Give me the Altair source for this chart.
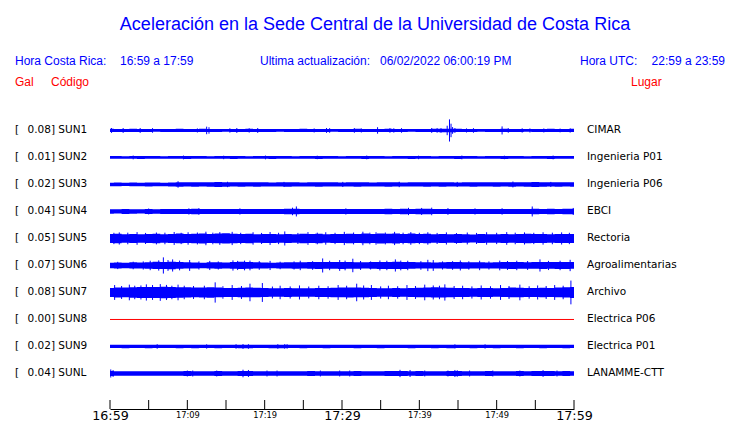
import altair as alt
import pandas as pd

# ---------------- data ----------------
stations = ["SUN1", "SUN2", "SUN3", "SUN4", "SUN5", "SUN6", "SUN7", "SUN8", "SUN9", "SUNL"]
peak_gal = ["0.08", "0.01", "0.02", "0.04", "0.05", "0.07", "0.08", "0.00", "0.02", "0.04"]
places = ["CIMAR", "Ingenieria P01", "Ingenieria P06", "EBCI", "Rectoria",
          "Agroalimentarias", "Archivo", "Electrica P06", "Electrica P01", "LANAMME-CTT"]
trace_colors = ["#0000ff", "#0000ff", "#0000ff", "#0000ff", "#0000ff",
                "#0000ff", "#0000ff", "#ff0000", "#0000ff", "#0000ff"]

minutes = list(range(61))                 # minutes after 16:59
tick_minutes = list(range(0, 61, 5))
label_minutes = [0, 10, 20, 30, 40, 50, 60]
tick_labels = ["16:59", "17:09", "17:19", "17:29", "17:39", "17:49", "17:59"]
TRACE_GAP = 0.2                           # Gal between trace baselines

# half-amplitude envelope per minute (Gal)
env_sun1 = [0.012, 0.011, 0.011, 0.012, 0.011, 0.011, 0.010, 0.011, 0.011, 0.012,
            0.011, 0.011, 0.012, 0.011, 0.011, 0.010, 0.011, 0.011, 0.012, 0.011,
            0.011, 0.011, 0.010, 0.011, 0.011, 0.012, 0.011, 0.011, 0.011, 0.010,
            0.011, 0.011, 0.012, 0.011, 0.011, 0.011, 0.012, 0.011, 0.011, 0.010,
            0.011, 0.011, 0.012, 0.013, 0.013, 0.012, 0.011, 0.011, 0.010, 0.011,
            0.011, 0.012, 0.011, 0.011, 0.010, 0.011, 0.011, 0.012, 0.011, 0.011,
            0.012]
env_sun2 = [0.010, 0.010, 0.009, 0.010, 0.011, 0.010, 0.010, 0.009, 0.010, 0.010,
            0.011, 0.010, 0.010, 0.009, 0.010, 0.010, 0.011, 0.010, 0.009, 0.010,
            0.010, 0.011, 0.010, 0.010, 0.009, 0.010, 0.010, 0.011, 0.010, 0.010,
            0.009, 0.010, 0.010, 0.011, 0.010, 0.010, 0.009, 0.010, 0.010, 0.011,
            0.010, 0.010, 0.009, 0.010, 0.010, 0.011, 0.010, 0.010, 0.009, 0.010,
            0.010, 0.011, 0.010, 0.010, 0.009, 0.010, 0.010, 0.011, 0.010, 0.010,
            0.010]
env_sun3 = [0.013, 0.014, 0.012, 0.014, 0.013, 0.015, 0.014, 0.013, 0.015, 0.017,
            0.016, 0.017, 0.016, 0.017, 0.018, 0.017, 0.016, 0.017, 0.016, 0.017,
            0.016, 0.015, 0.016, 0.017, 0.016, 0.015, 0.016, 0.017, 0.016, 0.016,
            0.015, 0.016, 0.017, 0.016, 0.015, 0.016, 0.017, 0.016, 0.015, 0.016,
            0.016, 0.017, 0.016, 0.017, 0.016, 0.015, 0.016, 0.017, 0.016, 0.016,
            0.017, 0.016, 0.017, 0.016, 0.017, 0.018, 0.017, 0.016, 0.017, 0.016,
            0.017]
env_sun4 = [0.017, 0.016, 0.018, 0.017, 0.016, 0.018, 0.017, 0.018, 0.019, 0.018,
            0.019, 0.020, 0.019, 0.018, 0.019, 0.018, 0.019, 0.018, 0.019, 0.018,
            0.019, 0.018, 0.019, 0.020, 0.021, 0.019, 0.018, 0.019, 0.018, 0.019,
            0.018, 0.019, 0.018, 0.019, 0.018, 0.019, 0.020, 0.019, 0.020, 0.019,
            0.020, 0.021, 0.019, 0.018, 0.019, 0.018, 0.019, 0.018, 0.019, 0.018,
            0.019, 0.018, 0.019, 0.018, 0.019, 0.020, 0.019, 0.020, 0.019, 0.020,
            0.020]
env_sun5 = [0.033, 0.035, 0.032, 0.034, 0.031, 0.033, 0.035, 0.032, 0.034, 0.036,
            0.033, 0.035, 0.037, 0.034, 0.036, 0.038, 0.035, 0.033, 0.035, 0.032,
            0.034, 0.033, 0.031, 0.034, 0.032, 0.035, 0.033, 0.035, 0.032, 0.034,
            0.033, 0.035, 0.033, 0.036, 0.034, 0.037, 0.035, 0.037, 0.034, 0.036,
            0.033, 0.035, 0.032, 0.034, 0.031, 0.033, 0.032, 0.030, 0.033, 0.031,
            0.032, 0.034, 0.032, 0.033, 0.035, 0.033, 0.034, 0.032, 0.033, 0.034,
            0.033]
env_sun6 = [0.020, 0.022, 0.021, 0.023, 0.022, 0.024, 0.027, 0.026, 0.028, 0.025,
            0.023, 0.022, 0.021, 0.023, 0.024, 0.022, 0.025, 0.027, 0.025, 0.023,
            0.022, 0.021, 0.022, 0.023, 0.024, 0.023, 0.025, 0.026, 0.025, 0.025,
            0.026, 0.025, 0.024, 0.023, 0.025, 0.026, 0.026, 0.027, 0.026, 0.025,
            0.023, 0.023, 0.022, 0.023, 0.025, 0.025, 0.024, 0.023, 0.023, 0.022,
            0.023, 0.025, 0.026, 0.025, 0.024, 0.025, 0.026, 0.025, 0.026, 0.026,
            0.025]
env_sun7 = [0.034, 0.037, 0.036, 0.039, 0.040, 0.041, 0.041, 0.042, 0.041, 0.039,
            0.038, 0.036, 0.037, 0.039, 0.036, 0.034, 0.033, 0.035, 0.036, 0.035,
            0.034, 0.032, 0.031, 0.033, 0.032, 0.031, 0.032, 0.034, 0.033, 0.035,
            0.036, 0.037, 0.036, 0.035, 0.033, 0.032, 0.031, 0.033, 0.032, 0.034,
            0.035, 0.036, 0.038, 0.037, 0.035, 0.034, 0.033, 0.032, 0.034, 0.033,
            0.032, 0.034, 0.036, 0.035, 0.033, 0.034, 0.035, 0.034, 0.036, 0.038,
            0.041]
env_sun9 = [0.012, 0.012, 0.013, 0.012, 0.012, 0.013, 0.012, 0.012, 0.012, 0.013,
            0.012, 0.013, 0.012, 0.012, 0.013, 0.012, 0.012, 0.013, 0.013, 0.012,
            0.012, 0.013, 0.013, 0.012, 0.012, 0.013, 0.012, 0.012, 0.013, 0.012,
            0.012, 0.012, 0.013, 0.012, 0.012, 0.013, 0.012, 0.012, 0.012, 0.013,
            0.012, 0.012, 0.013, 0.012, 0.013, 0.012, 0.012, 0.013, 0.012, 0.012,
            0.013, 0.012, 0.012, 0.013, 0.012, 0.012, 0.013, 0.012, 0.012, 0.013,
            0.012]
env_sunl = [0.018, 0.017, 0.016, 0.017, 0.016, 0.017, 0.016, 0.017, 0.016, 0.017,
            0.018, 0.017, 0.016, 0.017, 0.018, 0.017, 0.016, 0.018, 0.019, 0.017,
            0.016, 0.017, 0.016, 0.017, 0.016, 0.017, 0.018, 0.017, 0.016, 0.017,
            0.016, 0.017, 0.018, 0.017, 0.016, 0.017, 0.018, 0.019, 0.018, 0.017,
            0.018, 0.017, 0.016, 0.017, 0.018, 0.019, 0.017, 0.016, 0.017, 0.018,
            0.017, 0.016, 0.017, 0.018, 0.017, 0.018, 0.019, 0.018, 0.017, 0.018,
            0.017]

# isolated peaks: (minute, half-amplitude Gal)
spk_sun1 = [(0.2, 0.018), (1.7, 0.018), (3.9, 0.018), (5.5, 0.017), (11.3, 0.015),
            (12.5, 0.028), (12.8, 0.024), (15.5, 0.016), (16.4, 0.018), (18.0, 0.016),
            (19.1, 0.018), (26.4, 0.015), (28.0, 0.018), (28.4, 0.017), (31.6, 0.017),
            (32.5, 0.015), (34.6, 0.024), (36.2, 0.017), (36.7, 0.016), (37.7, 0.017),
            (41.6, 0.018), (42.3, 0.017), (42.8, 0.017), (43.6, 0.035), (43.9, 0.082),
            (44.1, 0.05), (44.3, 0.025), (44.6, 0.018), (46.1, 0.015), (47.0, 0.017),
            (50.7, 0.03), (51.5, 0.017), (53.3, 0.016), (54.3, 0.015), (56.1, 0.015),
            (58.2, 0.014), (59.5, 0.016)]
spk_sun2 = [(3.0, 0.014), (9.5, 0.014), (14.7, 0.013), (20.1, 0.014), (26.8, 0.013),
            (33.2, 0.014), (39.9, 0.013), (45.5, 0.014), (51.0, 0.013), (57.3, 0.014)]
spk_sun3 = [(8.8, 0.024), (15.2, 0.020), (22.5, 0.019), (30.1, 0.019), (37.4, 0.020),
            (44.9, 0.019), (52.1, 0.022), (57.0, 0.019)]
spk_sun4 = [(5.0, 0.022), (10.2, 0.023), (11.5, 0.025), (16.8, 0.023), (23.6, 0.028),
            (24.1, 0.037), (30.5, 0.023), (38.6, 0.027), (40.3, 0.026), (41.6, 0.028),
            (43.7, 0.025), (47.2, 0.023), (50.7, 0.024), (54.6, 0.037), (59.9, 0.026)]
spk_sun5 = [(1.2, 0.045), (3.5, 0.047), (6.0, 0.044), (8.3, 0.048), (10.1, 0.046),
            (12.4, 0.050), (14.2, 0.047), (15.8, 0.049), (18.5, 0.046), (20.7, 0.048),
            (22.6, 0.052), (25.6, 0.047), (27.9, 0.046), (30.3, 0.049), (32.7, 0.050),
            (34.4, 0.046), (36.8, 0.049), (38.9, 0.047), (41.1, 0.046), (43.5, 0.045),
            (46.2, 0.044), (48.7, 0.046), (51.3, 0.047), (53.6, 0.045), (56.0, 0.046),
            (58.4, 0.045),
            (0.5, 0.042), (2.3, 0.043), (4.6, 0.041), (7.1, 0.043), (9.2, 0.042),
            (11.3, 0.044), (13.3, 0.043), (16.9, 0.042), (19.6, 0.041), (21.8, 0.042),
            (24.3, 0.041), (26.8, 0.043), (29.1, 0.042), (31.5, 0.044), (33.6, 0.043),
            (35.6, 0.044), (37.9, 0.043), (40.0, 0.042), (42.3, 0.041), (44.8, 0.040),
            (47.4, 0.041), (50.0, 0.042), (52.4, 0.043), (54.8, 0.042), (57.2, 0.043),
            (59.4, 0.042)]
spk_sun6 = [(5.2, 0.035), (6.9, 0.060), (8.1, 0.045), (10.3, 0.040), (12.9, 0.034),
            (15.9, 0.038), (18.1, 0.036), (20.7, 0.034), (24.6, 0.035), (27.5, 0.052),
            (29.7, 0.040), (31.4, 0.050), (34.9, 0.037), (36.9, 0.045), (41.1, 0.042),
            (41.8, 0.040), (45.3, 0.037), (47.8, 0.035), (50.4, 0.036), (55.6, 0.045),
            (59.5, 0.042),
            (1.0, 0.027), (3.0, 0.028), (4.3, 0.030), (6.3, 0.038), (7.5, 0.040),
            (9.0, 0.036), (11.5, 0.030), (14.0, 0.030), (16.5, 0.034), (17.4, 0.036),
            (19.3, 0.032), (22.0, 0.028), (23.8, 0.030), (26.2, 0.032), (28.4, 0.035),
            (30.4, 0.036), (32.4, 0.033), (33.7, 0.030), (35.8, 0.035), (37.6, 0.036),
            (38.5, 0.035), (40.2, 0.032), (43.0, 0.030), (44.3, 0.032), (46.4, 0.031),
            (49.0, 0.030), (51.4, 0.033), (52.6, 0.035), (54.0, 0.033), (56.7, 0.034),
            (58.2, 0.035)]
spk_sun7 = [(0.6, 0.055), (2.5, 0.058), (4.7, 0.060), (6.5, 0.062), (8.8, 0.058),
            (13.6, 0.075), (15.8, 0.055), (18.1, 0.065), (19.7, 0.070), (22.0, 0.050),
            (24.5, 0.052), (27.0, 0.050), (29.5, 0.055), (31.9, 0.065), (33.8, 0.055),
            (36.0, 0.050), (38.4, 0.055), (40.7, 0.058), (43.3, 0.060), (45.6, 0.050),
            (48.0, 0.052), (50.5, 0.055), (53.0, 0.058), (55.3, 0.052), (57.5, 0.055),
            (59.6, 0.088),
            (1.5, 0.048), (3.2, 0.050), (4.0, 0.052), (5.5, 0.055), (7.3, 0.056),
            (8.0, 0.050), (9.6, 0.050), (10.8, 0.048), (12.2, 0.050), (14.6, 0.046),
            (17.0, 0.048), (21.0, 0.044), (23.3, 0.045), (25.7, 0.044), (28.2, 0.046),
            (30.6, 0.050), (32.8, 0.052), (35.0, 0.045), (37.2, 0.046), (39.5, 0.048),
            (41.8, 0.052), (42.6, 0.050), (44.5, 0.048), (46.8, 0.045), (49.2, 0.046),
            (51.6, 0.048), (54.2, 0.046), (56.4, 0.048), (58.6, 0.050)]
spk_sun9 = [(6.1, 0.017), (12.5, 0.016), (16.3, 0.017), (17.2, 0.018), (17.9, 0.017),
            (21.7, 0.017), (22.6, 0.018), (22.9, 0.017), (44.6, 0.016), (48.5, 0.016)]
spk_sunl = [(0.1, 0.030), (0.4, 0.025), (10.0, 0.022), (10.7, 0.022), (13.8, 0.022),
            (17.2, 0.028), (17.9, 0.026), (20.3, 0.022), (21.6, 0.022), (27.2, 0.022),
            (29.7, 0.022), (31.0, 0.022), (37.5, 0.027), (38.8, 0.026), (40.7, 0.022),
            (43.7, 0.022), (44.6, 0.026), (44.9, 0.024), (46.5, 0.022), (49.5, 0.022),
            (53.0, 0.022), (56.0, 0.025), (57.8, 0.022)]

envelopes = {"SUN1": env_sun1, "SUN2": env_sun2, "SUN3": env_sun3, "SUN4": env_sun4,
             "SUN5": env_sun5, "SUN6": env_sun6, "SUN7": env_sun7, "SUN9": env_sun9,
             "SUNL": env_sunl}
peaks = {"SUN1": spk_sun1, "SUN2": spk_sun2, "SUN3": spk_sun3, "SUN4": spk_sun4,
         "SUN5": spk_sun5, "SUN6": spk_sun6, "SUN7": spk_sun7, "SUN9": spk_sun9,
         "SUNL": spk_sunl}

# ---------------- tables ----------------
env_rows, spk_rows, st_rows = [], [], []
for i, s in enumerate(stations):
    off = -TRACE_GAP * i
    st_rows.append({"station": s, "offset": off, "start": minutes[0], "end": minutes[-1],
                    "label": f"{peak_gal[i]}] {s}", "place": places[i]})
    for m, a in zip(minutes, envelopes.get(s, [])):
        env_rows.append({"station": s, "minute": m, "hi": off + a, "lo": off - a})
    for m, a in peaks.get(s, []):
        spk_rows.append({"station": s, "minute": m, "hi": off + a, "lo": off - a})

env_df = pd.DataFrame(env_rows)
spk_df = pd.DataFrame(spk_rows)
st_df = pd.DataFrame(st_rows)
tick_df = pd.DataFrame({"minute": tick_minutes})

# ---------------- chart ----------------
BLUE = "#0000ff"
RED = "#ff0000"
PLOT_LEFT, PLOT_TOP = 110, 116   # page coords of plot origin

xs = alt.Scale(domain=[0, 60], nice=False, zero=False)
ys = alt.Scale(domain=[-2.063, 0.107], nice=False, zero=False)
lab_arr = "[" + ",".join(str(v) for v in label_minutes) + "]"
txt_arr = "[" + ",".join(f"'{t}'" for t in tick_labels) + "]"
x_axis = alt.Axis(values=label_minutes, title=None, grid=False, ticks=False, tickSize=0,
                  domainColor="black", domainWidth=1, labelColor="black",
                  labelFont="DejaVu Sans",
                  labelFontSize={"condition": {"test": "datum.value % 30 === 0", "value": 12.7},
                                 "value": 8.3},
                  labelExpr=f"{txt_arr}[indexof({lab_arr}, datum.value)]",
                  labelFlush=False, labelOverlap=False, labelPadding=6,
                  labelBaseline="middle")

color = alt.Color("station:N", scale=alt.Scale(domain=stations, range=trace_colors), legend=None)

center = alt.Chart(st_df).mark_rule(strokeWidth=1).encode(
    x=alt.X("start:Q", scale=xs, axis=x_axis),
    x2="end:Q",
    y=alt.Y("offset:Q", scale=ys, axis=None),
    color=color,
)

band = alt.Chart(env_df).mark_area(interpolate="step", color=BLUE, opacity=1).encode(
    x=alt.X("minute:Q", scale=xs, axis=x_axis),
    y=alt.Y("hi:Q", scale=ys, axis=None),
    y2="lo:Q",
    detail="station:N",
)

spikes = alt.Chart(spk_df).mark_rule(color=BLUE, strokeWidth=1).encode(
    x=alt.X("minute:Q", scale=xs, axis=x_axis),
    y=alt.Y("hi:Q", scale=ys, axis=None),
    y2="lo:Q",
)

ticks = alt.Chart(tick_df).mark_rule(color="black", strokeWidth=1).encode(
    x=alt.X("minute:Q", scale=xs, axis=x_axis),
    y=alt.value(284),
    y2=alt.value(293),
)

bracket = alt.Chart(st_df).mark_text(text="[", align="left", baseline="middle",
                                     font="DejaVu Sans", fontSize=10.5, color="black").encode(
    x=alt.value(15 - PLOT_LEFT), y=alt.Y("offset:Q", scale=ys, axis=None))
left_lab = alt.Chart(st_df).mark_text(align="left", baseline="middle",
                                      font="DejaVu Sans", fontSize=10.5, color="black").encode(
    x=alt.value(27.5 - PLOT_LEFT), y=alt.Y("offset:Q", scale=ys, axis=None), text="label:N")
right_lab = alt.Chart(st_df).mark_text(align="left", baseline="middle",
                                       font="DejaVu Sans", fontSize=10.5, color="black").encode(
    x=alt.value(587 - PLOT_LEFT), y=alt.Y("offset:Q", scale=ys, axis=None), text="place:N")


def header(text, x, y, color, size, align="left"):
    return alt.Chart(tick_df.head(1)).mark_text(
        text=text, align=align, baseline="alphabetic", font="Liberation Sans",
        fontSize=size, color=color).encode(x=alt.value(x - PLOT_LEFT), y=alt.value(y - PLOT_TOP))


headers = [
    header("Aceleración en la Sede Central de la Universidad de Costa Rica", 375, 29.5, BLUE, 18, "center"),
    header("Hora Costa Rica:", 15, 64.5, BLUE, 12),
    header("16:59 a 17:59", 120, 64.5, BLUE, 12),
    header("Ultima actualización:", 260, 64.5, BLUE, 12),
    header("06/02/2022 06:00:19 PM", 380, 64.5, BLUE, 12),
    header("Hora UTC:", 580, 64.5, BLUE, 12),
    header("22:59 a 23:59", 725, 64.5, BLUE, 12, "right"),
    header("Gal", 15, 85.5, RED, 12),
    header("Código", 51, 85.5, RED, 12),
    header("Lugar", 631, 85.5, RED, 12),
]

chart = alt.layer(center, band, spikes, ticks, bracket, left_lab, right_lab, *headers).properties(
    width=464, height=293,
    padding={"left": 102, "top": 108, "right": 158, "bottom": 13},
    autosize=alt.AutoSizeParams(type="none"),
    background="white",
).configure_view(stroke=None)

chart.save("out.html", embed_options={"renderer": "svg", "actions": False})
